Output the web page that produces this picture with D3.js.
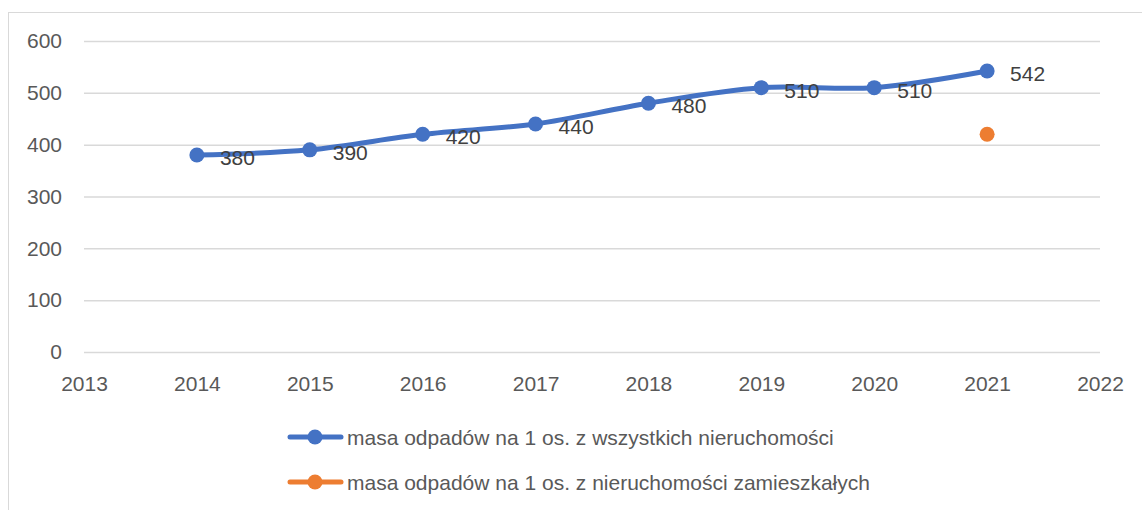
<!DOCTYPE html>
<html>
<head>
<meta charset="utf-8">
<script src="https://cdn.jsdelivr.net/npm/d3@7"></script>
<style>
  body { margin: 0; background: #fff; }
  svg { display: block; font-family: "Liberation Sans", Arial, sans-serif; }
</style>
</head>
<body>
<svg id="chart" width="1142" height="510"></svg>
<script>
// data
var years = [2014, 2015, 2016, 2017, 2018, 2019, 2020, 2021];
var allProps = [380, 390, 420, 440, 480, 510, 510, 542];
var inhabitedYears = [2021];
var inhabited = [420];
var yTicks = [0, 100, 200, 300, 400, 500, 600];
var xTicks = [2013, 2014, 2015, 2016, 2017, 2018, 2019, 2020, 2021, 2022];
var seriesNames = [
  "masa odpadów na 1 os. z wszystkich nieruchomości",
  "masa odpadów na 1 os. z nieruchomości zamieszkałych"
];
var colors = ["#4472C4", "#ED7D31"];

var svg = d3.select("#chart");
var textColor = "#595959";
var fs = "21px";

//outer frame of the chart area
svg.append("rect")
  .attr("x", 8.5).attr("y", 12.5)
  .attr("width", 1150).attr("height", 520)
  .attr("fill", "none").attr("stroke", "#D9D9D9");

var x = d3.scaleLinear().domain([2013, 2022]).range([84, 1100]);
var y = d3.scaleLinear().domain([0, 600]).range([352, 41]);

//gridlines
svg.append("g").selectAll("line")
  .data(yTicks).enter().append("line")
  .attr("x1", x(2013)).attr("x2", x(2022))
  .attr("y1", d => y(d) + 0.5).attr("y2", d => y(d) + 0.5)
  .attr("stroke", "#D9D9D9").attr("stroke-width", 1.5);

// y axis labels
var yAxis = svg.append("g")
  .attr("transform", "translate(" + 66 + ",0)")
  .call(d3.axisLeft(y).tickValues(yTicks).tickSize(0).tickPadding(4));
yAxis.select(".domain").remove();
yAxis.selectAll("text").attr("fill", textColor).style("font-size", fs)
  .attr("font-family", null);

// x axis labels
var xAxis = svg.append("g")
  .attr("transform", "translate(0," + 376 + ")")
  .call(d3.axisBottom(x).tickValues(xTicks).tickFormat(d3.format("d")).tickSize(0).tickPadding(0));
xAxis.select(".domain").remove();
xAxis.selectAll("text").attr("fill", textColor).style("font-size", fs)
  .attr("font-family", null);

//main line, smoothed like excel
var line = d3.line()
  .x(d => x(d[0]))
  .y(d => y(d[1]))
  .curve(d3.curveCardinal.tension(0));

var pts = years.map((yr, i) => [yr, allProps[i]]);

svg.append("path")
  .datum(pts)
  .attr("d", line)
  .attr("fill", "none")
  .attr("stroke", colors[0])
  .attr("stroke-width", 5)
  .attr("stroke-linecap", "round");

svg.append("g").selectAll("circle")
  .data(pts).enter().append("circle")
  .attr("cx", d => x(d[0])).attr("cy", d => y(d[1]))
  .attr("r", 7.5).attr("fill", colors[0]);

svg.append("g").selectAll("text")
  .data(pts).enter().append("text")
  .attr("x", d => x(d[0]) + 23)
  .attr("y", d => y(d[1]) + 10)
  .attr("fill", "#404040")
  .style("font-size", fs)
  .text(d => d[1]);

// second series: just one point
svg.append("g").selectAll("circle")
  .data(inhabitedYears.map((yr, i) => [yr, inhabited[i]])).enter().append("circle")
  .attr("cx", d => x(d[0])).attr("cy", d => y(d[1]))
  .attr("r", 7.5).attr("fill", colors[1]);

//legend
var legend = svg.append("g");
seriesNames.forEach(function(name, i) {
  var ly = 437 + i * 45;
  legend.append("line")
    .attr("x1", 290).attr("x2", 341)
    .attr("y1", ly).attr("y2", ly)
    .attr("stroke", colors[i]).attr("stroke-width", 5)
    .attr("stroke-linecap", "round");
  legend.append("circle")
    .attr("cx", 315).attr("cy", ly).attr("r", 7.5).attr("fill", colors[i]);
  legend.append("text")
    .attr("x", 347).attr("y", ly + 8)
    .attr("fill", textColor)
    .style("font-size", fs)
    .text(name);
});
</script>
</body>
</html>
